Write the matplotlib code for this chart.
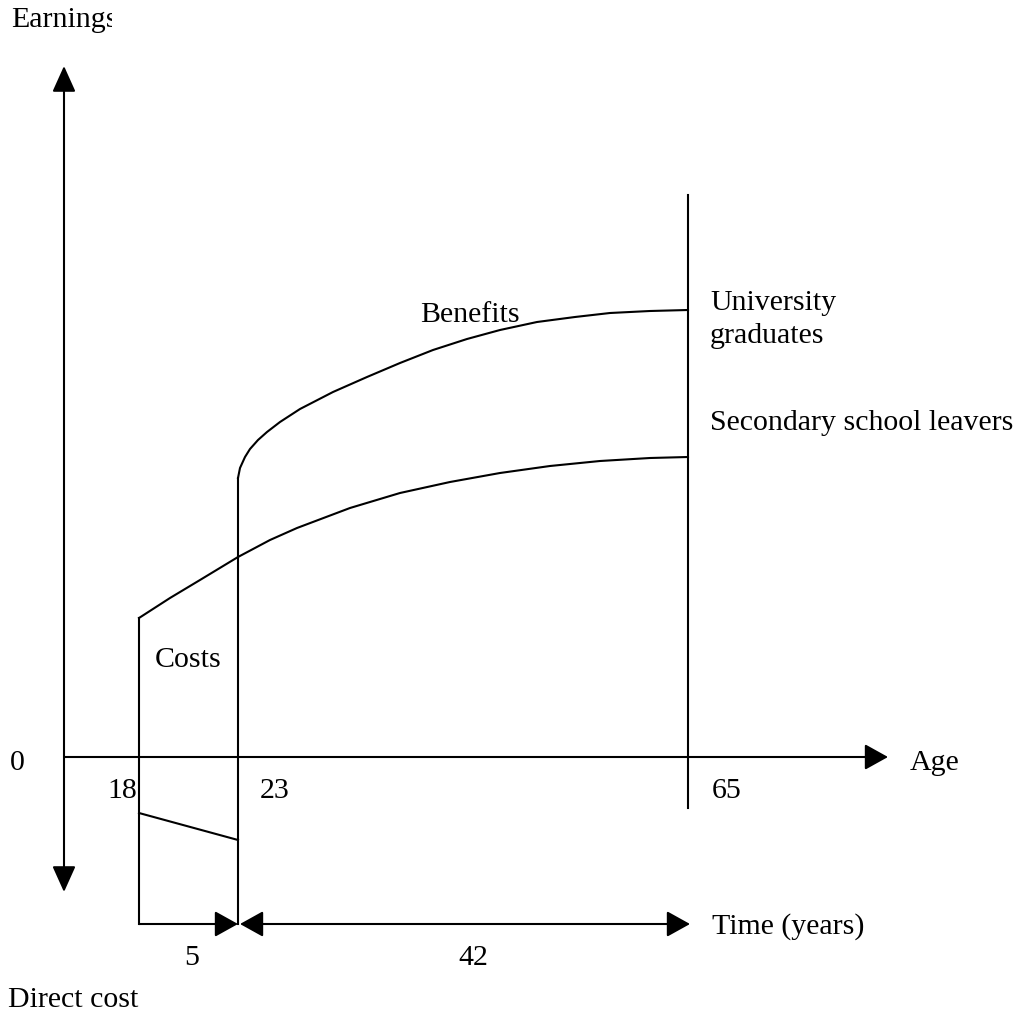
import matplotlib.pyplot as plt
from matplotlib.transforms import Bbox, TransformedBbox

# schematic drawn in picture units (x to the right, y downward)
age_labels = ['18', '23', '65']
age_x = [139, 238, 688]

# earnings profiles
uni_x = [238, 240, 245, 250, 258, 267, 280, 300, 333, 367, 400, 433, 467, 500, 537, 575, 610, 650, 688]
uni_y = [478, 468, 457, 449, 440, 432, 422, 409, 392, 377, 363, 350, 339, 330, 322, 317, 313, 311, 310]
sec_x = [139, 170, 200, 238, 270, 297, 350, 400, 450, 500, 550, 600, 650, 688]
sec_y = [618, 598, 580, 557, 540, 528, 508, 493, 482, 473, 466, 461, 458, 457]

# direct cost line (18 -> 23)
cost_x = [139, 238]
cost_y = [813, 840]

axis_y = 757
time_y = 924
retire_top, retire_bottom = 195, 808

plt.rcParams['font.family'] = ['Liberation Serif', 'DejaVu Serif']
fs = 21.5
lw = 1.5

fig = plt.figure(figsize=(10.13, 10.15), dpi=100)
ax = fig.add_axes([0, 0, 1, 1])
ax.set_xlim(0, 1013)
ax.set_ylim(1015, 0)
ax.axis('off')

arrow_kw = dict(mutation_scale=40, lw=lw, color='black', shrinkA=0, shrinkB=0)
head = 'head_length=0.36,head_width=0.2'

# earnings axis (double headed) and age axis
ax.annotate('', xy=(64, 66), xytext=(64, 892),
            arrowprops=dict(arrowstyle='<|-|>,head_length=0.4,head_width=0.18', **arrow_kw))
ax.annotate('', xy=(888, axis_y), xytext=(64, axis_y),
            arrowprops=dict(arrowstyle='-|>,' + head, **arrow_kw))

# vertical lines at ages
ax.plot([age_x[0], age_x[0]], [sec_y[0], time_y], color='black', lw=lw)
ax.plot([age_x[1], age_x[1]], [uni_y[0], time_y], color='black', lw=lw)
ax.plot([age_x[2], age_x[2]], [retire_top, retire_bottom], color='black', lw=lw)

# earnings curves
ax.plot(uni_x, uni_y, color='black', lw=lw, solid_joinstyle='round')
ax.plot(sec_x, sec_y, color='black', lw=lw, solid_joinstyle='round')
ax.plot(cost_x, cost_y, color='black', lw=lw)

# time arrows
ax.annotate('', xy=(age_x[1], time_y), xytext=(age_x[0], time_y),
            arrowprops=dict(arrowstyle='-|>,' + head, **arrow_kw))
ax.annotate('', xy=(240, time_y), xytext=(690, time_y),
            arrowprops=dict(arrowstyle='<|-|>,' + head, **arrow_kw))

# text
t = ax.text(11, 27, 'Earnings', fontsize=fs, va='baseline')
t.set_clip_box(TransformedBbox(Bbox([[0, 0], [112, 60]]), ax.transData))
t.set_clip_on(True)

ax.text(10, 770, '0', fontsize=fs, va='baseline')
ax.text(137, 798, age_labels[0], fontsize=fs, va='baseline', ha='right')
ax.text(260, 798, age_labels[1], fontsize=fs, va='baseline')
ax.text(712, 798, age_labels[2], fontsize=fs, va='baseline')
ax.text(910, 770, 'Age', fontsize=fs, va='baseline')
ax.text(155, 667, 'Costs', fontsize=fs, va='baseline')
ax.text(420, 322, 'Benefits', fontsize=fs, va='baseline')
ax.text(710, 310, 'University', fontsize=fs, va='baseline')
ax.text(710, 343, 'graduates', fontsize=fs, va='baseline')
ax.text(710, 430, 'Secondary school leavers', fontsize=fs, va='baseline')
ax.text(712, 934, 'Time (years)', fontsize=fs, va='baseline')
ax.text(192, 965, '5', fontsize=fs, va='baseline', ha='center')
ax.text(458, 965, '42', fontsize=fs, va='baseline')
ax.text(8, 1007, 'Direct cost', fontsize=fs, va='baseline')

fig.savefig('out.png', dpi=100, facecolor='white')
